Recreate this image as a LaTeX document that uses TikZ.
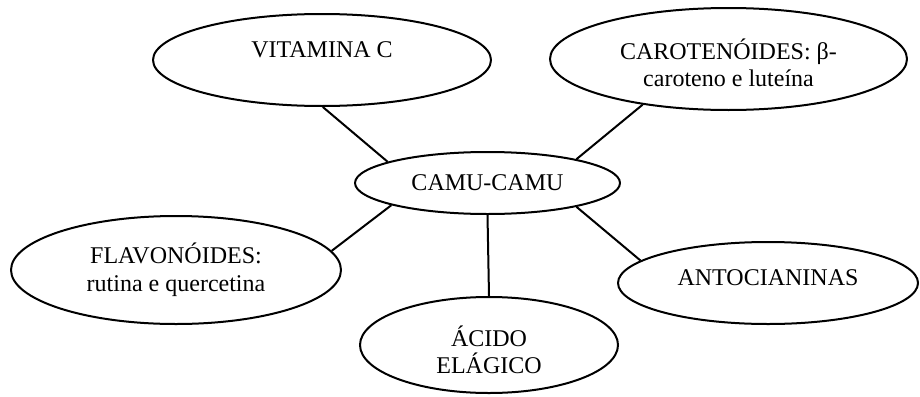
\documentclass[tikz,border=0pt]{standalone}
\usepackage{fontspec}
\setmainfont{Liberation Serif}
\usetikzlibrary{shapes.geometric}
\begin{document}
\begin{tikzpicture}[x=.5pt,y=-.5pt,line width=1pt,line join=round,
  font=\fontsize{12}{13.8}\selectfont,
  bubble/.style={draw,ellipse,inner sep=0pt},
  txt/.style={align=center,font=\fontsize{12}{13.8}\selectfont}]
  \useasboundingbox (0,0) rectangle (920,396);
  \node[bubble,minimum width=169pt,minimum height=46pt,label={[txt,yshift=5pt]center:VITAMINA C}] (vit) at (322,60) {};
  \node[bubble,minimum width=178.5pt,minimum height=51pt,label={[txt,yshift=-2pt]center:CAROTENÓIDES: β-\\caroteno e luteína}] (car) at (728.5,59) {};
  \node[bubble,minimum width=132.5pt,minimum height=31pt,label={[txt]center:CAMU-CAMU}] (camu) at (487.5,183) {};
  \node[bubble,minimum width=165pt,minimum height=54pt,label={[txt]center:FLAVONÓIDES:\\rutina e quercetina}] (fla) at (176,270) {};
  \node[bubble,minimum width=150pt,minimum height=41pt,label={[txt,yshift=2.5pt]center:ANTOCIANINAS}] (ant) at (768,283) {};
  \node[bubble,minimum width=129pt,minimum height=48pt,label={[txt,yshift=-2.5pt]center:ÁCIDO\\ELÁGICO}] (aci) at (489,345) {};
  \draw (camu.168) -- (vit.-89);
  \draw (camu.15) -- (car.208);
  \draw (camu.193) -- (fla.7);
  \draw (camu.south) -- (aci.north);
  \draw (camu.-15) -- (ant.170);
\end{tikzpicture}
\end{document}
